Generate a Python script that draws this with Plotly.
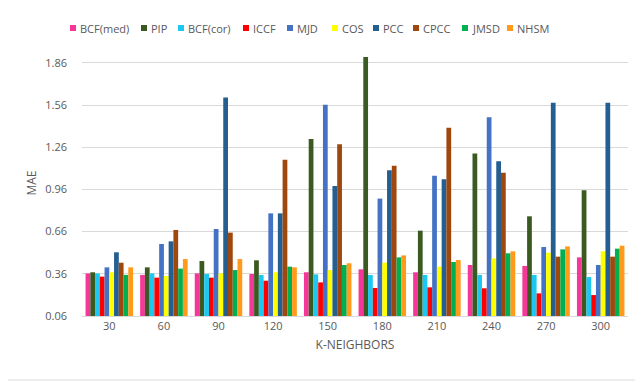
import plotly.graph_objects as go

categories = ["30", "60", "90", "120", "150", "180", "210", "240", "270", "300"]

bcf_med = [0.363, 0.352, 0.363, 0.359, 0.371, 0.392, 0.371, 0.423, 0.416, 0.477]
pip     = [0.371, 0.406, 0.451, 0.456, 1.319, 1.902, 0.667, 1.215, 0.769, 0.954]
bcf_cor = [0.363, 0.363, 0.359, 0.352, 0.356, 0.352, 0.352, 0.352, 0.352, 0.337]
iccf    = [0.340, 0.333, 0.333, 0.311, 0.299, 0.259, 0.264, 0.257, 0.221, 0.209]
mjd     = [0.406, 0.572, 0.679, 0.790, 1.563, 0.895, 1.058, 1.473, 0.551, 0.423]
cos     = [0.371, 0.344, 0.363, 0.371, 0.387, 0.439, 0.411, 0.470, 0.510, 0.520]
pcc     = [0.513, 0.591, 1.615, 0.790, 0.985, 1.096, 1.032, 1.160, 1.577, 1.577]
cpcc    = [0.439, 0.672, 0.653, 1.172, 1.281, 1.129, 1.399, 1.079, 0.482, 0.482]
jmsd    = [0.352, 0.397, 0.387, 0.411, 0.423, 0.477, 0.444, 0.506, 0.534, 0.539]
nhsm    = [0.406, 0.465, 0.465, 0.406, 0.435, 0.491, 0.458, 0.520, 0.555, 0.560]

series_names = ["BCF(med)", "PIP", "BCF(cor)", "ICCF", "MJD", "COS", "PCC", "CPCC", "JMSD", "NHSM"]
series_values = [bcf_med, pip, bcf_cor, iccf, mjd, cos, pcc, cpcc, jmsd, nhsm]
series_colors = ["#F5379A", "#3B5A22", "#1CC8F2", "#FF0000", "#4472C4",
                 "#FFFF00", "#255E91", "#9E480E", "#00B050", "#FF9A1A"]

y_ticks = [0.06, 0.36, 0.66, 0.96, 1.26, 1.56, 1.86]
y_tick_text = ["0.06", "0.36", "0.66", "0.96", "1.26", "1.56", "1.86"]

# The page body has an 8px margin, so the figure is drawn at (8, 8).
OFF = 8
L, R, T, B = 82 - OFF, 15, 50 - OFF, 66
W, H = 643 - OFF, 382 - OFF
PW, PH = W - L - R, H - T - B


def px_x(px):
    # px given in page coordinates
    return (px - OFF - L) / PW


def px_y(py):
    return (H - B - (py - OFF)) / PH


font_color = "#595959"

fig = go.Figure()
for name, vals, color in zip(series_names, series_values, series_colors):
    fig.add_trace(go.Bar(name=name, x=categories, y=vals, showlegend=False,
                         marker=dict(color=color, line=dict(width=0))))

# custom single-row legend (Excel style)
legend_marker_x = [70, 141, 178, 243, 287, 332, 373, 413, 462, 507]
shapes = []
annotations = []
ly = 28
for name, color, mx in zip(series_names, series_colors, legend_marker_x):
    shapes.append(dict(type="rect", xref="paper", yref="paper",
                       x0=px_x(mx), x1=px_x(mx + 6), y0=px_y(ly + 3), y1=px_y(ly - 3),
                       fillcolor=color, line=dict(width=0)))
    annotations.append(dict(xref="paper", yref="paper", x=px_x(mx + 8), y=px_y(ly),
                            xanchor="left", yanchor="middle", showarrow=False, text=name,
                            font=dict(size=11, color=font_color)))

shapes.append(dict(type="rect", xref="paper", yref="paper",
                   x0=px_x(4), x1=px_x(660), y0=px_y(380), y1=px_y(0),
                   line=dict(color="#D9D9D9", width=1)))

fig.update_layout(
    width=W, height=H,
    margin=dict(l=L, r=R, t=T, b=B),
    paper_bgcolor="white", plot_bgcolor="white",
    barmode="group", bargap=0.13, bargroupgap=0,
    showlegend=False,
    font=dict(family="Open Sans, Liberation Sans, sans-serif", size=11, color=font_color),
    xaxis=dict(title=dict(text="K-NEIGHBORS", standoff=8, font=dict(size=12, color=font_color)),
               showline=True, linecolor="#D9D9D9", linewidth=1, ticks="",
               tickfont=dict(size=11, color=font_color)),
    yaxis=dict(title=dict(text="MAE", standoff=6, font=dict(size=12, color=font_color)),
               range=[0.06, 1.952], tickvals=y_ticks, ticktext=y_tick_text,
               showgrid=True, gridcolor="#D9D9D9", gridwidth=1, zeroline=False,
               showline=False, ticks="", ticklabelstandoff=14,
               tickfont=dict(size=11, color=font_color)),
    shapes=shapes,
    annotations=annotations,
)

fig.write_html("out.html")
